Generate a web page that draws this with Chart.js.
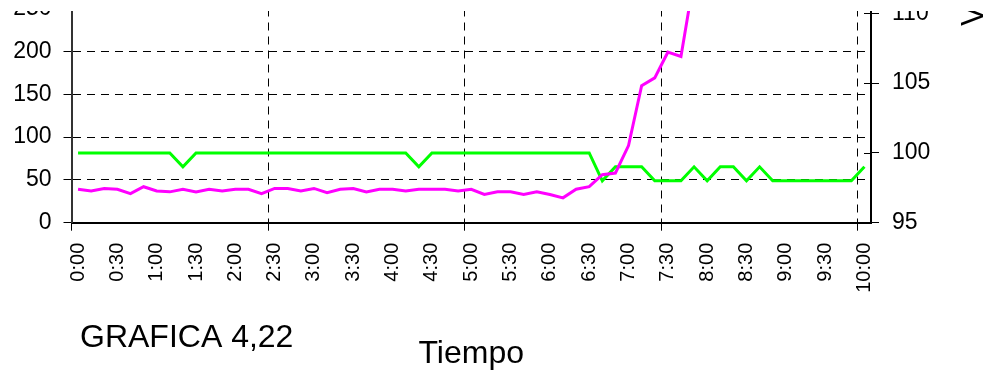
<!DOCTYPE html>
<html lang="es">
<head>
    <meta charset="UTF-8">
    <title>GRAFICA 4,22</title>
    <script src="https://cdn.jsdelivr.net/npm/chart.js"></script>
    <style>
        html, body { margin: 0; padding: 0; background: #fff; }
        #grafica { display: block; }
    </style>
</head>
<body>
    <canvas id="grafica" width="991" height="374"></canvas>

    <script>
        // categorias: una lectura cada 10 minutos
        var horas = [
            '0:00', '0:10', '0:20', '0:30', '0:40', '0:50',
            '1:00', '1:10', '1:20', '1:30', '1:40', '1:50',
            '2:00', '2:10', '2:20', '2:30', '2:40', '2:50',
            '3:00', '3:10', '3:20', '3:30', '3:40', '3:50',
            '4:00', '4:10', '4:20', '4:30', '4:40', '4:50',
            '5:00', '5:10', '5:20', '5:30', '5:40', '5:50',
            '6:00', '6:10', '6:20', '6:30', '6:40', '6:50',
            '7:00', '7:10', '7:20', '7:30', '7:40', '7:50',
            '8:00', '8:10', '8:20', '8:30', '8:40', '8:50',
            '9:00', '9:10', '9:20', '9:30', '9:40', '9:50',
            '10:00'
        ];

        // serie magenta (eje izquierdo); despues de las 7:50 sale del grafico
        var serieIzq = [
            39, 37, 40, 39, 34, 42, 37, 36, 39, 36,
            39, 37, 39, 39, 34, 40, 40, 37, 40, 35,
            39, 40, 36, 39, 39, 37, 39, 39, 39, 37,
            39, 33, 36, 36, 33, 36, 33, 29, 39, 42,
            56, 58, 90, 160, 169, 199, 194, 285, null, null,
            null, null, null, null, null, null, null, null, null, null,
            null
        ];

        // serie verde (eje derecho, V)
        var serieDer = [
            100, 100, 100, 100, 100, 100, 100, 100, 99, 100,
            100, 100, 100, 100, 100, 100, 100, 100, 100, 100,
            100, 100, 100, 100, 100, 100, 99, 100, 100, 100,
            100, 100, 100, 100, 100, 100, 100, 100, 100, 100,
            98, 99, 99, 99, 98, 98, 98, 99, 98, 99,
            99, 98, 99, 98, 98, 98, 98, 98, 98, 98,
            99
        ];

        var ticksIzq = [0, 50, 100, 150, 200, 250];
        var ticksDer = [95, 100, 105, 110];
        var cadaEtiqueta = 3;   // una etiqueta cada 30 min
        var cadaLinea = 15;     // linea vertical cada 2:30

        var fuente = 'Arial, "Liberation Sans", sans-serif';
        Chart.defaults.font.family = fuente;
        Chart.defaults.color = '#000';

        var negro = '#000';
        var nada = 'rgba(0,0,0,0)';

        // sin relleno automatico para las etiquetas: el area de datos la fijamos nosotros
        function sinRelleno(s) {
            s.paddingTop = 0;
            s.paddingBottom = 0;
            s.paddingLeft = 0;
            s.paddingRight = 0;
        }

        // textos sueltos y recorte de la parte de arriba
        var extras = {
            id: 'extras',
            afterDraw: function (chart) {
                var ctx = chart.ctx;
                var der = chart.scales.yDer;

                // marcas del eje derecho hacia dentro
                ctx.save();
                ctx.strokeStyle = negro;
                ctx.lineWidth = 1;
                ticksDer.forEach(function (v) {
                    var y = Math.round(der.getPixelForValue(v)) + 0.5;
                    ctx.beginPath();
                    ctx.moveTo(der.left - 7, y);
                    ctx.lineTo(der.left, y);
                    ctx.stroke();
                });
                ctx.restore();

                // titulo del eje derecho, girado
                ctx.save();
                ctx.translate(983, 26);
                ctx.rotate(-Math.PI / 2);
                ctx.font = '31px ' + fuente;
                ctx.fillStyle = negro;
                ctx.textAlign = 'left';
                ctx.textBaseline = 'alphabetic';
                ctx.fillText('Voltaje', 0, 0);
                ctx.restore();

                // la imagen original esta cortada arriba
                ctx.save();
                ctx.fillStyle = '#fff';
                ctx.fillRect(0, 0, chart.width, 11);
                ctx.restore();

                ctx.save();
                ctx.font = '32px ' + fuente;
                ctx.fillStyle = negro;
                ctx.textAlign = 'left';
                ctx.textBaseline = 'alphabetic';
                ctx.fillText('GRAFICA 4,22', 80, 347);
                ctx.restore();
            }
        };

        var ctxG = document.getElementById('grafica').getContext('2d');
        new Chart(ctxG, {
            type: 'line',
            data: {
                labels: horas,
                datasets: [{
                    data: serieIzq,
                    yAxisID: 'yIzq',
                    borderColor: '#ff00ff',
                    borderWidth: 3,
                    pointRadius: 0,
                    tension: 0,
                    spanGaps: false
                }, {
                    data: serieDer,
                    yAxisID: 'yDer',
                    borderColor: '#00ff00',
                    borderWidth: 3,
                    pointRadius: 0,
                    tension: 0
                }]
            },
            options: {
                responsive: false,
                animation: false,
                layout: { padding: { top: 8.5, left: 0, right: 0, bottom: 0 } },
                plugins: {
                    legend: { display: false },
                    tooltip: { enabled: false }
                },
                scales: {
                    x: {
                        type: 'category',
                        offset: true,
                        grid: {
                            offset: true,
                            lineWidth: 1,
                            tickLength: 8,
                            tickBorderDash: [],
                            color: function (c) {
                                return (c.index > 0 && c.index % cadaLinea === 0) ? negro : nada;
                            },
                            tickColor: function (c) {
                                return (c.index >= 0 && c.index % cadaLinea === 0) ? negro : nada;
                            }
                        },
                        border: { color: negro, width: 2, dash: [8, 6] },
                        ticks: {
                            autoSkip: false,
                            minRotation: 90,
                            maxRotation: 90,
                            padding: 12,
                            color: negro,
                            font: { size: 20 },
                            callback: function (v, i) {
                                return i % cadaEtiqueta === 0 ? horas[i] : '';
                            }
                        },
                        title: {
                            display: true,
                            text: 'Tiempo',
                            color: negro,
                            font: { size: 32 },
                            padding: { top: 0, bottom: 1 }
                        },
                        afterFit: function (s) { sinRelleno(s); s.height = 151.3; }
                    },
                    yIzq: {
                        position: 'left',
                        min: 0,
                        max: 250,
                        afterBuildTicks: function (s) {
                            s.ticks = ticksIzq.map(function (v) { return { value: v }; });
                        },
                        grid: {
                            color: negro,
                            lineWidth: 1,
                            tickLength: 8,
                            tickColor: negro,
                            tickBorderDash: []
                        },
                        border: { color: '#333', width: 2, dash: [8, 6] },
                        ticks: { padding: 12, color: negro, font: { size: 23 } },
                        afterFit: function (s) { sinRelleno(s); s.width = 71.5; }
                    },
                    yDer: {
                        position: 'right',
                        min: 95,
                        max: 110.34,
                        afterBuildTicks: function (s) {
                            s.ticks = ticksDer.map(function (v) { return { value: v }; });
                        },
                        grid: {
                            drawOnChartArea: false,
                            color: negro,
                            lineWidth: 1,
                            tickLength: 8,
                            tickColor: negro
                        },
                        border: { color: negro, width: 2 },
                        ticks: { padding: 13, color: negro, font: { size: 23 } },
                        afterFit: function (s) { sinRelleno(s); s.width = 120; }
                    }
                }
            },
            plugins: [extras]
        });
    </script>
</body>
</html>
